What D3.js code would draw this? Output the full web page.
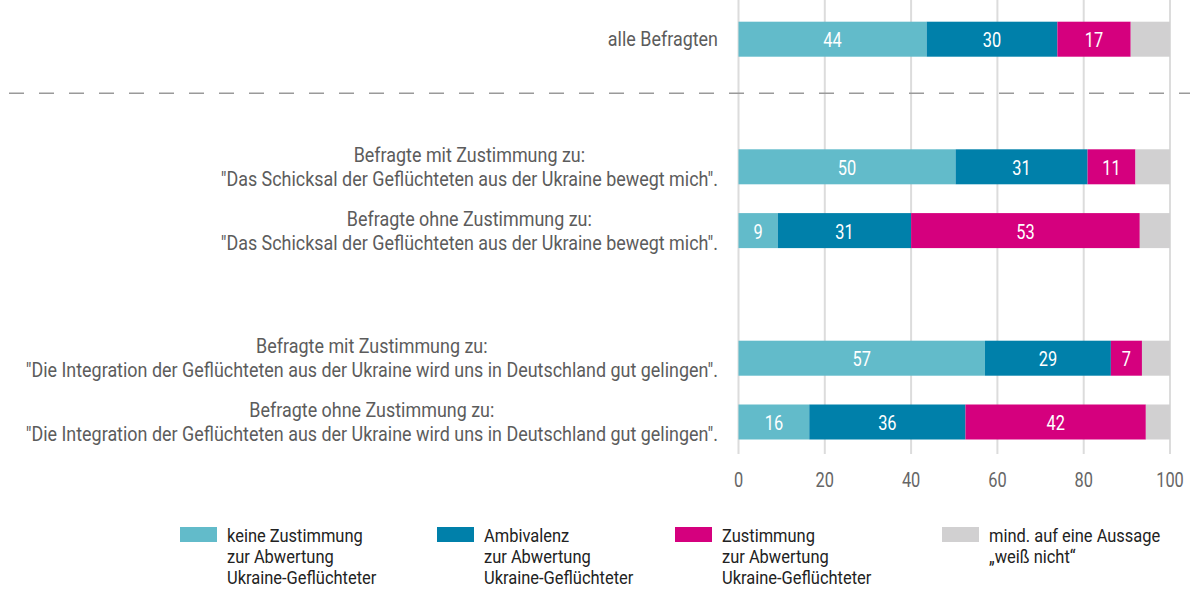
<!DOCTYPE html>
<html>
<head>
<meta charset="utf-8">
<script src="https://cdn.jsdelivr.net/npm/d3@7"></script>
<style>
  html, body { margin: 0; padding: 0; background: #fff; }
  svg { display: block; }
  text { font-family: Roboto, "Liberation Sans", sans-serif; }
</style>
</head>
<body>
<svg id="chart" width="1197" height="592"></svg>
<script>
// ---------------- data ----------------
const rowKeys = ["alle", "s_mit", "s_ohne", "i_mit", "i_ohne"];
const labelLine1 = [
  "alle Befragten",
  "Befragte mit Zustimmung zu:",
  "Befragte ohne Zustimmung zu:",
  "Befragte mit Zustimmung zu:",
  "Befragte ohne Zustimmung zu:"
];
const labelLine2 = [
  "",
  "\"Das Schicksal der Geflüchteten aus der Ukraine bewegt mich\".",
  "\"Das Schicksal der Geflüchteten aus der Ukraine bewegt mich\".",
  "\"Die Integration der Geflüchteten aus der Ukraine wird uns in Deutschland gut gelingen\".",
  "\"Die Integration der Geflüchteten aus der Ukraine wird uns in Deutschland gut gelingen\"."
];
const seriesKeys = ["keine", "ambivalenz", "zustimmung", "weissNicht"];
const seriesLegend = [
  ["keine Zustimmung", "zur Abwertung", "Ukraine-Geflüchteter"],
  ["Ambivalenz", "zur Abwertung", "Ukraine-Geflüchteter"],
  ["Zustimmung", "zur Abwertung", "Ukraine-Geflüchteter"],
  ["mind. auf eine Aussage", "\u201eweiß nicht\u201c"]
];
const keine      = [43.6, 50.3, 9.1, 57.1, 16.4];
const ambivalenz = [30.3, 30.6, 30.9, 29.2, 36.2];
const zustimmung = [17.0, 11.1, 53.0, 7.2, 41.8];
const weissNicht = [9.1, 8.0, 7.0, 6.5, 5.6];
const xTicks = [0, 20, 40, 60, 80, 100];

// ---------------- layout ----------------
const colors = { keine: "#62bbca", ambivalenz: "#0080aa", zustimmung: "#d5007e", weissNicht: "#d1d0d1" };
const labelled = { keine: true, ambivalenz: true, zustimmung: true, weissNicht: false };
const STYLE_LEGEND = { size: 18.5, sx: 0.89 };
const STYLE_CAT = { size: 19.5, sx: 0.92 };
const STYLE_NUM = { size: 20, sx: 0.82 };
const slotOrder = ["alle", "sep", "s_mit", "s_ohne", "gap", "i_mit", "i_ohne"];
const x = d3.scaleLinear().domain([0, 100]).range([738.5, 1170]);
const y = d3.scalePoint().domain(slotOrder).range([39.2, 422]);
const barH = 35;
const labelRight = 718;
const SEP_Y = 93.3;
const legendX = [180, 437, 675, 942];

const svg = d3.select("#chart");

function ctext(parent, tx, ty, str, anchor, fill, st) {
  const g = parent.append("g").attr("transform", `translate(${tx},${ty}) scale(${st.sx},1)`);
  const t = g.append("text")
    .attr("x", 0).attr("y", 0)
    .attr("text-anchor", anchor)
    .attr("dominant-baseline", "central")
    .attr("fill", fill)
    .style("font-size", st.size + "px")
    .text(str);
  return { g, t };
}

// table for stacking
const table = rowKeys.map((k, i) => ({
  key: k, keine: keine[i], ambivalenz: ambivalenz[i], zustimmung: zustimmung[i], weissNicht: weissNicht[i]
}));
const stacked = d3.stack().keys(seriesKeys)(table);

// gridlines
svg.append("g").selectAll("line").data(xTicks).join("line")
  .attr("x1", d => x(d)).attr("x2", d => x(d))
  .attr("y1", 0).attr("y2", 454)
  .attr("stroke", "#dcdcdc").attr("stroke-width", 2);

// separator
svg.append("line")
  .attr("x1", 9).attr("x2", 1190).attr("y1", SEP_Y).attr("y2", SEP_Y)
  .attr("stroke", "#9a9a9a").attr("stroke-width", 1.5)
  .attr("stroke-dasharray", "15,15");

// bars
const layers = svg.append("g").selectAll("g").data(stacked).join("g")
  .attr("fill", d => colors[d.key]);
layers.selectAll("rect").data(d => d).join("rect")
  .attr("x", d => x(d[0]))
  .attr("width", d => x(d[1]) - x(d[0]))
  .attr("y", d => y(d.data.key) - barH / 2)
  .attr("height", barH);

// value labels
const vl = svg.append("g");
stacked.forEach(layer => {
  if (!labelled[layer.key]) return;
  layer.forEach(d => {
    const v = d[1] - d[0];
    ctext(vl, (x(d[0]) + x(d[1])) / 2, y(d.data.key) + 1, String(Math.round(v)), "middle", "#ffffff", STYLE_NUM);
  });
});

// category labels
const cl = svg.append("g");
rowKeys.forEach((k, i) => {
  const cy = y(k);
  if (!labelLine2[i]) {
    ctext(cl, labelRight, cy + 1, labelLine1[i], "end", "#5c5c5c", STYLE_CAT);
  } else {
    const a = ctext(cl, 0, cy - 11, labelLine1[i], "middle", "#5c5c5c", STYLE_CAT);
    const b = ctext(cl, 0, cy + 13, labelLine2[i], "middle", "#5c5c5c", STYLE_CAT);
    const w = Math.max(a.t.node().getComputedTextLength(), b.t.node().getComputedTextLength()) * STYLE_CAT.sx;
    const cx = labelRight - w / 2;
    a.g.attr("transform", `translate(${cx},${cy - 11}) scale(${STYLE_CAT.sx},1)`);
    b.g.attr("transform", `translate(${cx},${cy + 13}) scale(${STYLE_CAT.sx},1)`);
  }
});

// x axis tick labels
const ax = svg.append("g");
xTicks.forEach(t => ctext(ax, x(t), 480, String(t), "middle", "#666666", STYLE_NUM));

// legend
const lg = svg.append("g");
seriesKeys.forEach((k, i) => {
  lg.append("rect")
    .attr("x", legendX[i]).attr("y", 527)
    .attr("width", 37).attr("height", 15)
    .attr("fill", colors[k]);
  seriesLegend[i].forEach((line, j) => {
    ctext(lg, legendX[i] + 47, 536 + j * 20.7, line, "start", "#222222", STYLE_LEGEND);
  });
});
</script>
</body>
</html>
